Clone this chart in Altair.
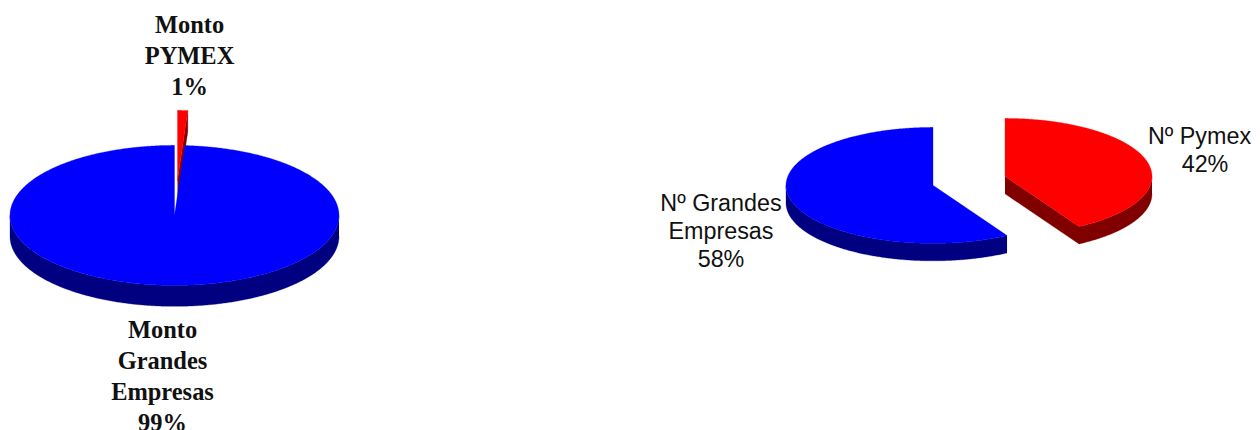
import numpy as np
import pandas as pd
import altair as alt

# Values (share of each pie, percent)
monto_shares = [1.0, 99.0]
numero_shares = [41.6, 58.4]

monto_labels = [["Monto", "PYMEX", "1%"], ["Monto", "Grandes", "Empresas", "99%"]]
numero_labels = [["Nº Pymex", "42%"], ["Nº Grandes", "Empresas", "58%"]]

RED, DARK_RED, BLUE, DARK_BLUE = "#FF0000", "#800000", "#0000FF", "#000080"
W, H = 1260, 430
M = 8
CW, CH = W - M, H - M + 3
SHRINK = (W - 2 * M) / CW  # the page fits the drawing into the window's inner width
X_SCALE = alt.Scale(domain=[M, M + CW * SHRINK], nice=False, zero=False)
Y_SCALE = alt.Scale(domain=[M + CH * SHRINK, M], nice=False, zero=False)


def arc(cx, cy, rx, ry, a0, a1, drop=0.0):
    """Points on an ellipse; angles in degrees, clockwise from the top."""
    n = max(2, int(abs(a1 - a0) * 2) + 1)
    t = np.radians(np.linspace(a0, a1, n))
    return list(zip(cx + rx * np.sin(t), cy - ry * np.cos(t) + drop))


def poly(points, colour):
    df = pd.DataFrame(points, columns=["x", "y"])
    df["i"] = range(len(df))
    return (
        alt.Chart(df)
        .mark_line(fill=colour, stroke=colour, strokeWidth=0.3, interpolate="linear", clip=False)
        .encode(
            x=alt.X("x:Q", scale=X_SCALE, axis=None),
            y=alt.Y("y:Q", scale=Y_SCALE, axis=None),
            order="i:Q",
        )
    )


def rim(cx, cy, rx, ry, depth, a0, a1, colour):
    a = max(a0, 90)
    b = min(a1, 270)
    top = arc(cx, cy, rx, ry, a, b)
    low = arc(cx, cy, rx, ry, b, a, depth)
    return poly(top + low, colour)


def wedge(cx, cy, rx, ry, a0, a1, colour):
    return poly([(cx, cy)] + arc(cx, cy, rx, ry, a0, a1) + [(cx, cy)], colour)


def cut_face(cx, cy, rx, ry, depth, a, colour):
    (ex, ey) = arc(cx, cy, rx, ry, a, a + 0.001)[0]
    return poly([(cx, cy), (ex, ey), (ex, ey + depth), (cx, cy + depth)], colour)


def text_layer(lines, x, y0, step, font, size, bold):
    df = pd.DataFrame({"t": lines, "x": [x] * len(lines), "y": [y0 + step * i for i in range(len(lines))]})
    return (
        alt.Chart(df)
        .mark_text(font=font, fontSize=size, fontWeight="bold" if bold else "normal",
                   color="#111111", align="center", baseline="middle", clip=False)
        .encode(
            x=alt.X("x:Q", scale=X_SCALE, axis=None),
            y=alt.Y("y:Q", scale=Y_SCALE, axis=None),
            text="t:N",
        )
    )


layers = []

# Left pie: 1% slice pulled upward
a1 = monto_shares[0] * 3.6
cx, cy, rx, ry, d = 174.5, 214, 164.5, 70, 21
layers += [
    cut_face(cx + 3, cy - 35, rx, ry, d, a1, DARK_RED),
    wedge(cx + 3, cy - 35, rx, ry, 0, a1, RED),
    rim(cx, cy, rx, ry, d, a1, 360, DARK_BLUE),
    wedge(cx, cy, rx, ry, a1, 360, BLUE),
]

# Right pie: red slice pulled to the right
a2 = numero_shares[0] * 3.6
cx, cy, rx, ry, d = 933, 184, 147, 58, 17.5
ox, oy = 72, -9
layers += [
    rim(cx, cy, rx, ry, d, a2, 360, DARK_BLUE),
    wedge(cx, cy, rx, ry, a2, 360, BLUE),
    cut_face(cx + ox, cy + oy, rx, ry, d, a2, DARK_RED),
    rim(cx + ox, cy + oy, rx, ry, d, 0, a2, DARK_RED),
    wedge(cx + ox, cy + oy, rx, ry, 0, a2, RED),
]

SERIF, SANS = "Liberation Serif", "Liberation Sans"
layers += [
    text_layer(monto_labels[0], 189.5, 25, 31, SERIF, 24.6, True),
    text_layer(monto_labels[1], 162.5, 329.5, 31, SERIF, 24.6, True),
    text_layer(numero_labels[0][:1], 1199.5, 136, 28, SANS, 23.5, False),
    text_layer(numero_labels[0][1:], 1205, 164, 28, SANS, 23.5, False),
    text_layer(numero_labels[1], 721, 203, 28, SANS, 23.5, False),
]

chart = (
    alt.layer(*layers)
    .properties(width=CW, height=CH, padding=0, autosize=alt.AutoSizeParams(type="none"), background="white")
    .configure_view(stroke=None)
)

chart.save("out.html", embed_options={"renderer": "svg", "actions": False})
